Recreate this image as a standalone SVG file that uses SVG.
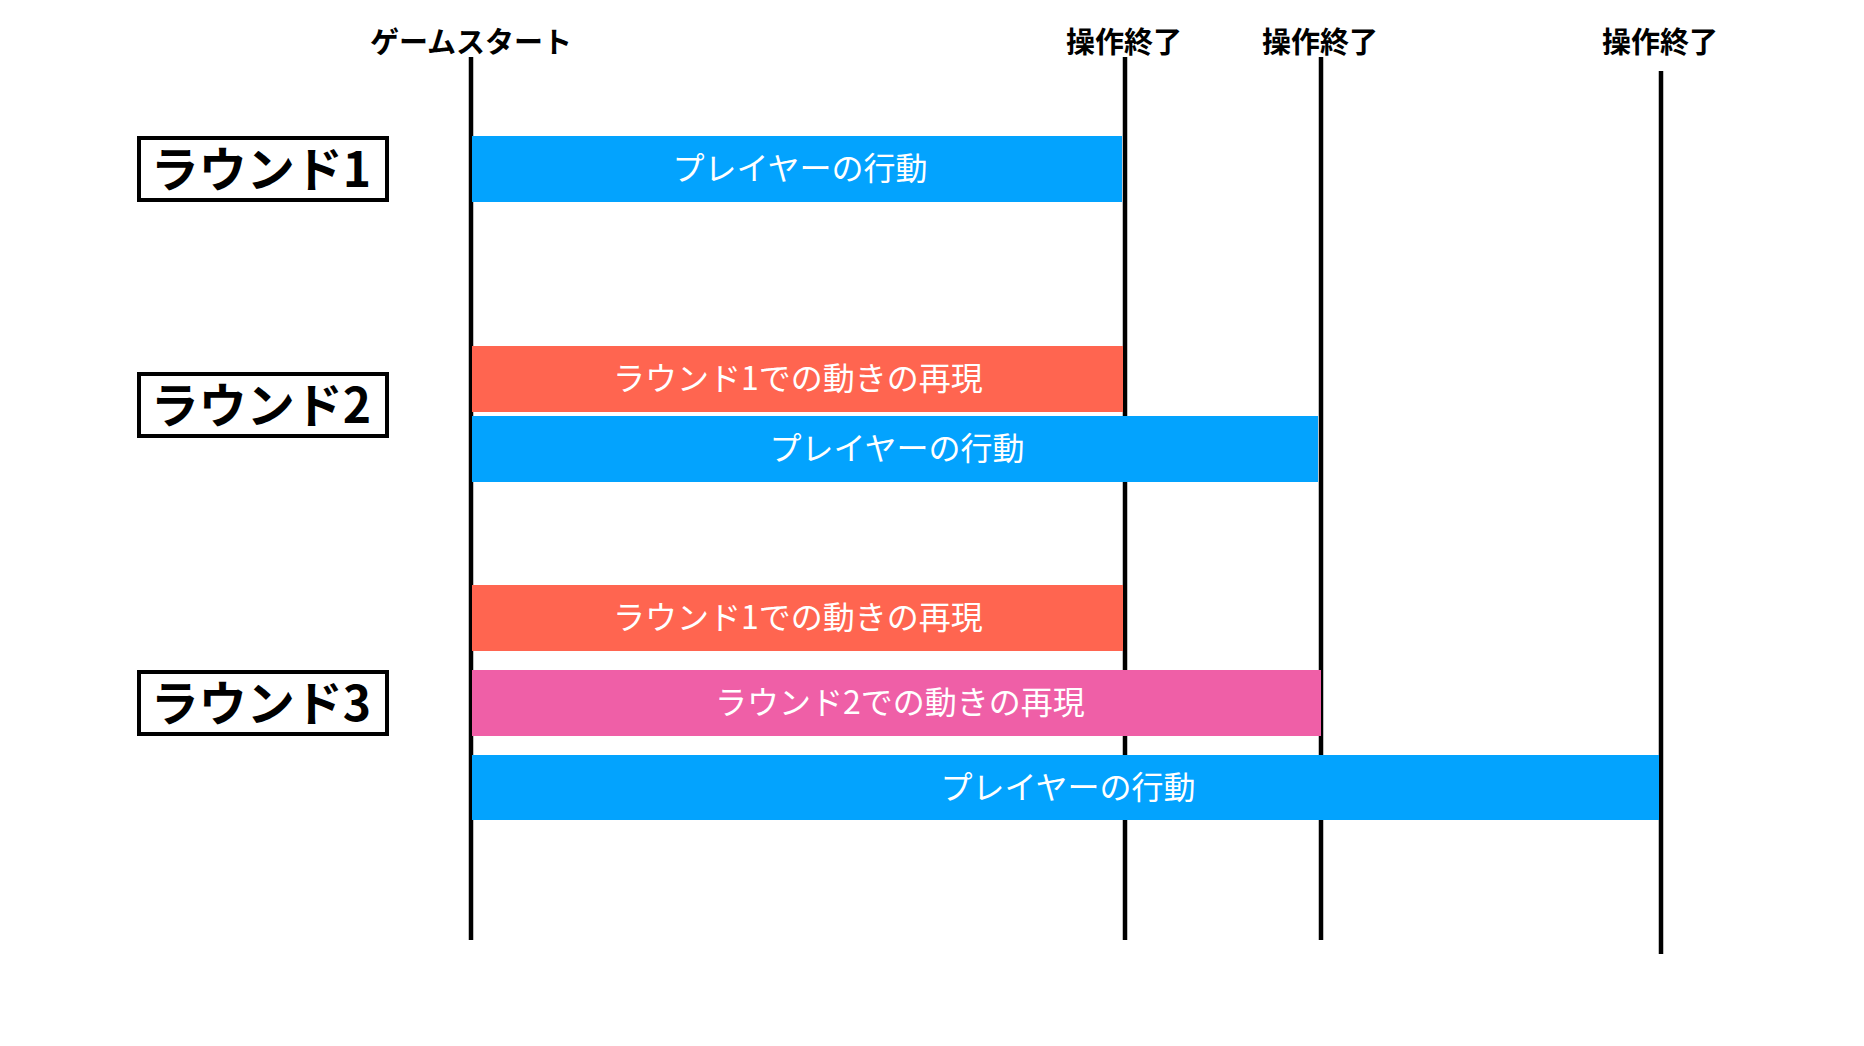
<svg xmlns="http://www.w3.org/2000/svg" width="1864" height="1046" viewBox="0 0 1864 1046">
<style>
.ln{stroke:#000;stroke-width:4.5;fill:none}
.hdr{font-family:"Noto Sans CJK JP","Noto Sans CJK SC",sans-serif;font-size:29px;font-weight:bold;fill:#000;text-anchor:middle;dominant-baseline:central}
.rbox{fill:#fff;stroke:#000;stroke-width:4}
.rlab{font-family:"Noto Sans CJK JP","Noto Sans CJK SC",sans-serif;font-size:48px;font-weight:bold;fill:#000;text-anchor:middle;dominant-baseline:central}
.bt{font-family:"Noto Sans CJK JP","Noto Sans CJK SC",sans-serif;font-size:32px;fill:#fff;text-anchor:middle;dominant-baseline:central}
.blue{fill:#03A3FE}
.orange{fill:#FF6550}
.pink{fill:#EF5FA7}
</style>
<rect width="1864" height="1046" fill="#fff"/>
<g id="connectors">
<line class="ln" x1="471" y1="57" x2="471" y2="940"/>
<line class="ln" x1="1125" y1="57" x2="1125" y2="940"/>
<line class="ln" x1="1321" y1="57" x2="1321" y2="940"/>
<line class="ln" x1="1661" y1="71" x2="1661" y2="954"/>
</g>
<g id="hdr-start"><text class="hdr" x="471" y="40">ゲームスタート</text></g>
<g id="hdr-end1"><text class="hdr" x="1124" y="40">操作終了</text></g>
<g id="hdr-end2"><text class="hdr" x="1320" y="40">操作終了</text></g>
<g id="hdr-end3"><text class="hdr" x="1660" y="40">操作終了</text></g>
<g id="round1"><rect class="rbox" x="139" y="138" width="248" height="62"/><text class="rlab" x="261" y="166">ラウンド1</text></g>
<g id="round2"><rect class="rbox" x="139" y="374" width="248" height="62"/><text class="rlab" x="261" y="402">ラウンド2</text></g>
<g id="round3"><rect class="rbox" x="139" y="672" width="248" height="62"/><text class="rlab" x="261" y="700">ラウンド3</text></g>
<g id="r1-player"><rect class="blue" x="472" y="136" width="650" height="66"/><text class="bt" x="800" y="166">プレイヤーの行動</text></g>
<g id="r2-replay1"><rect class="orange" x="472" y="346" width="651" height="66"/><text class="bt" x="798" y="376">ラウンド1での動きの再現</text></g>
<g id="r2-player"><rect class="blue" x="472" y="416" width="846" height="66"/><text class="bt" x="897" y="446">プレイヤーの行動</text></g>
<g id="r3-replay1"><rect class="orange" x="472" y="585" width="651" height="66"/><text class="bt" x="798" y="615">ラウンド1での動きの再現</text></g>
<g id="r3-replay2"><rect class="pink" x="472" y="670" width="849" height="66"/><text class="bt" x="900" y="700">ラウンド2での動きの再現</text></g>
<g id="r3-player"><rect class="blue" x="472" y="755" width="1187" height="65"/><text class="bt" x="1068" y="784.5">プレイヤーの行動</text></g>
</svg>
